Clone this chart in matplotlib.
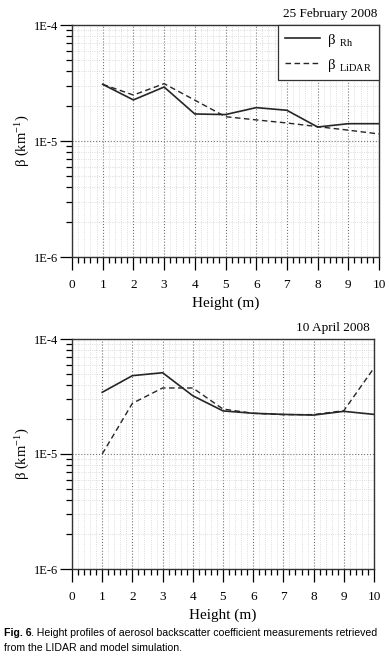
import numpy as np
import matplotlib
matplotlib.use('Agg')
import matplotlib.pyplot as plt
from matplotlib.ticker import LogLocator, NullFormatter, FixedLocator, MultipleLocator

plt.rcParams['font.family'] = ['Liberation Serif', 'DejaVu Serif']
plt.rcParams['mathtext.fontset'] = 'custom'
plt.rcParams['mathtext.rm'] = 'Liberation Serif'
plt.rcParams['mathtext.it'] = 'Liberation Serif:italic'

# heights (m)
height = [1, 2, 3, 4, 5, 6, 7, 8, 9, 10]

# 25 February 2008
feb_rh = [3.08e-5, 2.26e-5, 2.92e-5, 1.71e-5, 1.69e-5, 1.94e-5, 1.84e-5, 1.32e-5, 1.41e-5, 1.41e-5]
feb_lidar = [3.08e-5, 2.49e-5, 3.12e-5, 2.25e-5, 1.62e-5, 1.52e-5, 1.43e-5, 1.33e-5, 1.24e-5, 1.15e-5]

# 10 April 2008
apr_rh = [3.44e-5, 4.8e-5, 5.09e-5, 3.21e-5, 2.37e-5, 2.26e-5, 2.21e-5, 2.18e-5, 2.35e-5, 2.21e-5]
apr_lidar = [1.0e-5, 2.76e-5, 3.75e-5, 3.75e-5, 2.46e-5, 2.26e-5, 2.2e-5, 2.2e-5, 2.38e-5, 5.6e-5]

titles = ['25 February 2008', '10 April 2008']
ytick_vals = [1e-6, 1e-5, 1e-4]
ytick_labels = ['1E-6', '1E-5', '1E-4']

fig = plt.figure(figsize=(3.89, 6.57), dpi=100)
ax1 = fig.add_axes([72/389, 1-257/657, 307/389, 232/657])
ax2 = fig.add_axes([72/389, 1-569/657, 302/389, 230/657])


def style(ax, title, title_x):
    ax.set_yscale('log')
    ax.set_xlim(0, 10)
    ax.set_ylim(1e-6, 1e-4)
    ax.yaxis.set_major_locator(FixedLocator(ytick_vals))
    ax.set_yticklabels(ytick_labels)
    ax.yaxis.set_minor_locator(LogLocator(base=10, subs=np.arange(2, 10)))
    ax.yaxis.set_minor_formatter(NullFormatter())
    ax.xaxis.set_major_locator(MultipleLocator(1))
    ax.xaxis.set_minor_locator(MultipleLocator(0.2))
    ax.tick_params(axis='y', which='major', length=9, width=0.9, pad=1, labelsize=9)
    ax.tick_params(axis='y', which='minor', length=4.5, width=0.9)
    ax.tick_params(axis='x', which='major', length=9, width=0.9, pad=7, labelsize=9.5)
    ax.tick_params(axis='x', which='minor', length=4.5, width=0.9)
    ax.grid(which='major', linestyle=':', color='0.45', linewidth=0.8)
    ax.grid(which='minor', linestyle=':', color='0.82', linewidth=0.6)
    for sp in ax.spines.values():
        sp.set_linewidth(1.0)
        sp.set_color('0.2')
    ax.set_xlabel('Height (m)', fontsize=11, labelpad=4)
    ax.set_ylabel(r'β (km$^{-1}$)', fontsize=10.5, labelpad=1)
    ax.text(title_x, 1.02, title, transform=ax.transAxes, ha='right', va='bottom', fontsize=9.5)


ax1.plot(height, feb_rh, color='0.15', lw=1.2, label=r'β$_{\ \ \mathrm{Rh}}$')
ax1.plot(height, feb_lidar, color='0.15', lw=1.0, dashes=(4, 2.5), label=r'β$_{\ \ \mathrm{LiDAR}}$')
style(ax1, titles[0], 0.995)
leg = ax1.legend(loc='upper right', fontsize=10.5, frameon=True, fancybox=False,
                 borderaxespad=0, handlelength=2.4, handletextpad=0.5,
                 borderpad=0.45, labelspacing=0.55)
leg.get_frame().set_edgecolor('0.2')
leg.get_frame().set_linewidth(0.9)
leg.get_frame().set_alpha(1)

ax2.plot(height, apr_rh, color='0.15', lw=1.2)
ax2.plot(height, apr_lidar, color='0.15', lw=1.0, dashes=(4, 2.5))
style(ax2, titles[1], 0.985)

fig.text(4/389, 1-633/657, 'Fig. 6', fontsize=7.6, fontweight='bold', family='Liberation Sans', va='center')
fig.text(31/389, 1-633/657, '. Height profiles of aerosol backscatter coefficient measurements retrieved',
         fontsize=7.6, family='Liberation Sans', va='center')
fig.text(4/389, 1-648/657, 'from the LIDAR and model simulation.', fontsize=7.6, family='Liberation Sans', va='center')

fig.savefig('out.png', dpi=100)
